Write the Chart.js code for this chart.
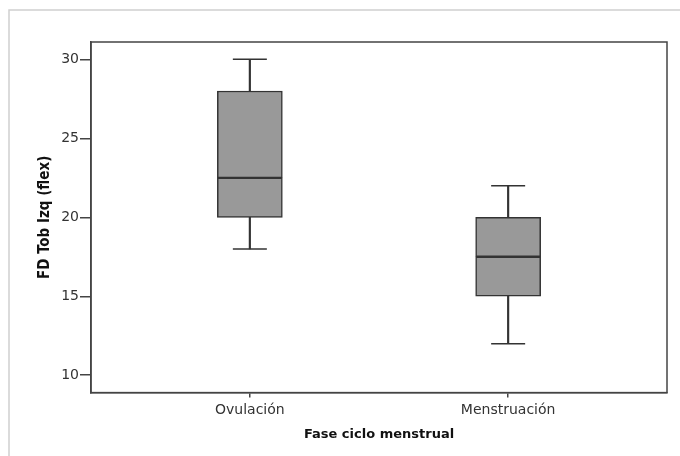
<!DOCTYPE html>
<html>
<head>
<meta charset="utf-8">
<script src="https://cdn.jsdelivr.net/npm/chart.js@4.4.0/dist/chart.umd.min.js"></script>
<style>
  html, body { margin: 0; padding: 0; background: #fff; }
  #wrap { width: 680px; height: 456px; }
</style>
</head>
<body>
<div id="wrap"><canvas id="boxChart"></canvas></div>
<script>
// box plot values
const categories = ["Ovulación", "Menstruación"];
const positions = [1, 2];
const minVals = [18, 12];
const q1Vals = [20, 15];
const medianVals = [22.5, 17.5];
const q3Vals = [28, 20];
const maxVals = [30, 22];
const yTicks = [10, 15, 20, 25, 30];

const dark = "#333333";
const boxFill = "#999999";

function ranges(lo, hi) {
  return positions.map((p, i) => ({ x: p, y: [lo[i], hi[i]] }));
}
function points(vals) {
  return positions.map((p, i) => ({ x: p, y: vals[i] }));
}

// light outer frame + dark frame round the plot
const frames = {
  id: "frames",
  beforeDraw(chart) {
    const c = chart.ctx;
    c.save();
    c.strokeStyle = "#d0d0d0";
    c.lineWidth = 1.5;
    c.beginPath();
    c.moveTo(9, chart.height);
    c.lineTo(9, 10);
    c.lineTo(chart.width, 10);
    c.stroke();
    c.restore();
  },
  afterDraw(chart) {
    const a = chart.chartArea;
    const c = chart.ctx;
    c.save();
    c.strokeStyle = "#444";
    c.lineWidth = 1.5;
    c.strokeRect(a.left, a.top, a.right - a.left, a.bottom - a.top);
    c.restore();
  }
};

const boxStyle = {
  backgroundColor: boxFill,
  borderColor: dark,
  borderWidth: 1.5,
  borderSkipped: false,
  barThickness: 65,
  grouped: false
};
const whiskerStyle = {
  backgroundColor: dark,
  borderWidth: 0,
  barThickness: 1.5,
  grouped: false
};
const capStyle = {
  type: "scatter",
  pointStyle: "line",
  pointRadius: 17,
  borderColor: dark,
  borderWidth: 1.5
};

new Chart(document.getElementById("boxChart"), {
  type: "bar",
  data: {
    datasets: [
      Object.assign({ data: ranges(q1Vals, medianVals) }, boxStyle),
      Object.assign({ data: ranges(medianVals, q3Vals) }, boxStyle),
      Object.assign({ data: ranges(minVals, q1Vals) }, whiskerStyle),
      Object.assign({ data: ranges(q3Vals, maxVals) }, whiskerStyle),
      Object.assign({ data: points(minVals) }, capStyle),
      Object.assign({ data: points(maxVals) }, capStyle)
    ]
  },
  options: {
    responsive: true,
    maintainAspectRatio: false,
    animation: false,
    layout: { autoPadding: false, padding: { left: 36, top: 42, right: 13, bottom: 14 } },
    plugins: { legend: { display: false }, tooltip: { enabled: false } },
    scales: {
      x: {
        type: "linear",
        offset: false,
        min: 0.385,
        max: 2.615,
        afterBuildTicks(scale) {
          scale.ticks = positions.map(v => ({ value: v }));
        },
        afterFit(scale) {
          scale.paddingLeft = 0;
          scale.paddingRight = 0;
        },
        ticks: {
          callback: (v) => categories[positions.indexOf(v)] || "",
          color: dark,
          font: { family: "DejaVu Sans", size: 14 },
          padding: 4,
          maxRotation: 0
        },
        grid: { offset: false, drawOnChartArea: false, drawTicks: true, tickLength: 5, color: "#444", lineWidth: 1.5 },
        border: { display: true, color: "#444", width: 1.5 },
        title: {
          display: true,
          text: "Fase ciclo menstrual",
          color: "#111",
          font: { family: "DejaVu Sans", size: 13, weight: "bold" },
          padding: { top: 4, bottom: 0 }
        }
      },
      y: {
        min: 8.9,
        max: 31.1,
        afterBuildTicks(scale) {
          scale.ticks = yTicks.map(v => ({ value: v }));
        },
        afterFit(scale) {
          scale.width = 55;
        },
        ticks: {
          color: dark,
          font: { family: "DejaVu Sans", size: 14 },
          padding: 1
        },
        grid: { drawOnChartArea: false, drawTicks: true, tickLength: 11, color: "#444", lineWidth: 1.5 },
        border: { display: true, color: "#444", width: 1.5 },
        title: {
          display: true,
          text: "FD Tob Izq (flex)",
          color: "#111",
          font: { family: "DejaVu Sans Condensed", size: 15, weight: "bold" },
          padding: { top: 0, bottom: 0 }
        }
      }
    }
  },
  plugins: [frames]
});
</script>
</body>
</html>
